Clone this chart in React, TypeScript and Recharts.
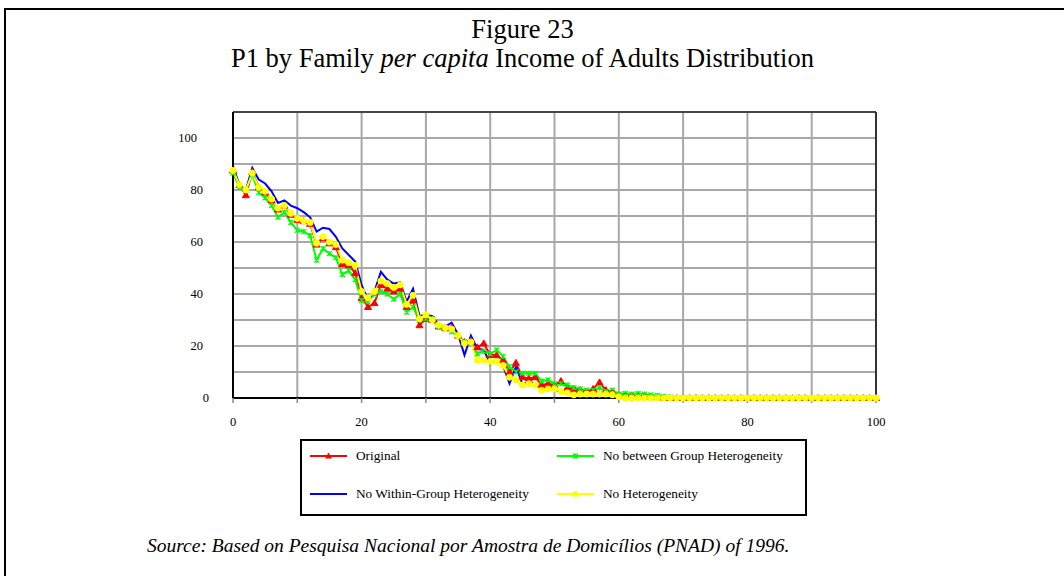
import { LineChart, Line, XAxis, YAxis, CartesianGrid, ReferenceLine } from 'recharts';

// percentiles of the family per capita income distribution
const percentiles = Array.from({ length: 101 }, (_, i) => i);

const original = [
    87.5, 82, 78, 87, 81, 79, 76, 72.5, 74, 70.5,
    68.5, 68, 67, 59, 61.5, 59.5, 58, 51.5, 51, 48,
    38.5, 35, 36.5, 43.5, 42, 41, 42, 35, 37.5, 28,
    30.5, 30, 27.5, 27, 27, 24, 21.5, 22, 19.5, 21,
    16.5, 16.5, 14.5, 10, 13.5, 8, 7.5, 8, 5, 5.5,
    5, 6.5, 4, 3.5, 3, 2.5, 3.5, 6, 3, 2.5,
    1, 1, 0.8, 0.8, 0.6, 0.5, 0.3, 0.2, 0, 0,
    0, 0, 0, 0, 0, 0, 0, 0, 0, 0,
    0, 0, 0, 0, 0, 0, 0, 0, 0, 0,
    0, 0, 0, 0, 0, 0, 0, 0, 0, 0,
    0,
];

const noBetween = [
    86.5, 81, 80, 86, 79, 77, 74, 69.5, 71.5, 67.5,
    64.5, 64, 62.5, 53, 57.5, 55.5, 54, 47.5, 49, 45.5,
    37.5, 37, 40, 41, 40, 38, 40, 33, 35, 30,
    30.5, 30.5, 27.5, 26.5, 25.5, 24, 21.5, 21, 17, 18,
    17, 18.5, 16, 12, 10, 9.5, 9.5, 9.5, 6.5, 7,
    5.5, 5.5, 5, 4, 3.5, 3, 3, 4, 2.5, 3,
    1.5, 1.8, 1.5, 1.8, 1.5, 1.2, 1, 0.6, 0.3, 0,
    0, 0, 0, 0, 0, 0, 0, 0, 0, 0,
    0, 0, 0, 0, 0, 0, 0, 0, 0, 0,
    0, 0, 0, 0, 0, 0, 0, 0, 0, 0,
    0,
];

const noWithin = [
    89, 82, 80, 88.5, 84, 82.5, 79.5, 75, 76, 74,
    73, 71.5, 69.5, 64, 65.5, 65, 62, 57.5, 55, 52.5,
    43.5, 37.5, 41, 48.5, 45.5, 44, 44.5, 37, 42, 31.5,
    32, 31.5, 28, 27.5, 29, 24.5, 16.5, 24, 19, 18.5,
    13, 15, 12.5, 5.5, 12, 5.5, 6, 5.5, 3.5, 4,
    3, 2.5, 2.5, 1.5, 2, 1.5, 1.5, 2.5, 1.5, 1.5,
    1, 0.5, 0, 0, 0, 0, 0, 0, 0, 0,
    0, 0, 0, 0, 0, 0, 0, 0, 0, 0,
    0, 0, 0, 0, 0, 0, 0, 0, 0, 0,
    0, 0, 0, 0, 0, 0, 0, 0, 0, 0,
    0,
];

const noHeterogeneity = [
    87.5, 82, 80, 86.5, 81, 79.5, 76.5, 73, 74, 71,
    69, 68, 67.5, 59.5, 62, 60, 59, 53, 52, 51,
    41, 38.5, 41, 45, 44, 42.5, 43.5, 36, 39.5, 30.5,
    32, 30, 28, 27, 26.5, 24, 21, 21.5, 14.5, 14.5,
    14, 14, 12.5, 8, 7, 5, 5.5, 5, 3, 3.5,
    3.5, 2.5, 2, 1.2, 1.5, 1.5, 1.5, 1.5, 1.5, 1.2,
    0.5, 0, 0, 0, 0, 0, 0, 0, 0, 0,
    0, 0, 0, 0, 0, 0, 0, 0, 0, 0,
    0, 0, 0, 0, 0, 0, 0, 0, 0, 0,
    0, 0, 0, 0, 0, 0, 0, 0, 0, 0,
    0,
];

const xTicks = [0, 10, 20, 30, 40, 50, 60, 70, 80, 90, 100];
const yTicks = [0, 10, 20, 30, 40, 50, 60, 70, 80, 90, 100, 110];

const chartData = percentiles.map((p, i) => ({
    p,
    original: original[i],
    noBetween: noBetween[i],
    noWithin: noWithin[i],
    noHeterogeneity: noHeterogeneity[i],
}));

const serif = '"Liberation Serif", "Times New Roman", serif';

function TriangleDot(props: any) {
    const { cx, cy, index } = props;
    if (cx == null || cy == null) return <g key={`t-${index}`} />;
    return (
        <path
            key={`t-${index}`}
            d={`M${cx},${cy - 3.5} L${cx + 3.5},${cy + 2.5} L${cx - 3.5},${cy + 2.5} Z`}
            fill="#FF0000"
            stroke="#FF0000"
        />
    );
}

function StarDot(props: any) {
    const { cx, cy, index } = props;
    if (cx == null || cy == null) return <g key={`s-${index}`} />;
    const r = 2.5;
    return (
        <path
            key={`s-${index}`}
            d={`M${cx - r},${cy - r} L${cx + r},${cy + r} M${cx - r},${cy + r} L${cx + r},${cy - r} M${cx},${cy - r} L${cx},${cy + r}`}
            stroke="#00FF00"
            strokeWidth={1.2}
            fill="none"
        />
    );
}

function CircleDot(props: any) {
    const { cx, cy, index } = props;
    if (cx == null || cy == null) return <g key={`c-${index}`} />;
    return <circle key={`c-${index}`} cx={cx} cy={cy} r={3} fill="#FFFF00" stroke="#FFFF00" />;
}

// y labels: the excel original shifts them a bit per digit
function YTick(props: any) {
    const { x, y, payload } = props;
    const v = payload.value;
    if (v % 20 !== 0 || v > 100) return <g />;
    const s = String(v);
    const end = x + 2 - 6 * (s.length - 1);
    return (
        <text x={end} y={y} dy="0.35em" textAnchor="end" fontSize={12.5} fontFamily={serif} fill="#000">
            {s}
        </text>
    );
}

function LegendSwatch({ color, marker }: { color: string; marker: 'tri' | 'star' | 'circle' | 'none' }) {
    return (
        <svg width={38} height={10} style={{ display: 'block' }}>
            <line x1={0} y1={5} x2={37} y2={5} stroke={color} strokeWidth={2} />
            {marker === 'tri' && <path d="M18.5,1.5 L22,7.5 L15,7.5 Z" fill={color} />}
            {marker === 'star' && (
                <path d="M16,2.5 L21,7.5 M16,7.5 L21,2.5 M18.5,2.5 L18.5,7.5" stroke={color} strokeWidth={1.2} />
            )}
            {marker === 'circle' && <circle cx={18.5} cy={5} r={3} fill={color} />}
        </svg>
    );
}

function LegendItem({ left, top, color, marker, label }: any) {
    return (
        <div style={{ position: 'absolute', left, top, display: 'flex', alignItems: 'center' }}>
            <LegendSwatch color={color} marker={marker} />
            <span style={{ marginLeft: 8, fontFamily: serif, fontSize: 13.3, color: '#000', whiteSpace: 'nowrap' }}>
                {label}
            </span>
        </div>
    );
}

export default function App() {
    return (
        <div style={{ position: 'absolute', left: 0, top: 0, width: 1064, height: 576, overflow: 'hidden', background: '#fff' }}>
            <div
                style={{
                    position: 'absolute',
                    left: 4,
                    top: 8,
                    width: 1200,
                    height: 700,
                    border: '2px solid #000',
                }}
            />
            <div style={{ position: 'absolute', left: 0, width: 1045, top: 15, textAlign: 'center', fontFamily: serif, fontSize: 26.5, lineHeight: '29px', color: '#000' }}>
                Figure 23
                <br />
                P1 by Family <i>per capita</i> Income of Adults Distribution
            </div>

            <div style={{ position: 'absolute', left: 0, top: 0 }}>
                <LineChart
                    width={1064}
                    height={576}
                    data={chartData}
                    margin={{ top: 112, right: 188, left: 193, bottom: 148 }}
                >
                    <CartesianGrid stroke="#a8a8a8" strokeWidth={2} horizontalValues={yTicks} verticalValues={xTicks} />
                    <XAxis
                        dataKey="p"
                        type="number"
                        domain={[0, 100]}
                        ticks={xTicks}
                        interval={0}
                        tickFormatter={(v: number) => (v % 20 === 0 ? String(v) : '')}
                        tick={{ fontSize: 12.5, fontFamily: serif, fill: '#000' }}
                        tickSize={5}
                        tickMargin={14}
                        tickLine={{ stroke: '#888', strokeWidth: 1.5 }}
                        axisLine={{ stroke: '#000', strokeWidth: 2 }}
                        height={30}
                    />
                    <YAxis
                        type="number"
                        domain={[0, 110]}
                        ticks={yTicks}
                        interval={0}
                        tick={<YTick />}
                        tickSize={0}
                        tickMargin={26}
                        tickLine={false}
                        axisLine={{ stroke: '#000', strokeWidth: 2 }}
                        width={40}
                    />
                    <ReferenceLine y={110} stroke="#444" strokeWidth={2} />
                    <ReferenceLine x={100} stroke="#333" strokeWidth={2} />
                    <Line
                        type="linear"
                        dataKey="original"
                        stroke="#FF0000"
                        strokeWidth={2}
                        dot={(props: any) => <TriangleDot {...props} key={`t-${props.index}`} />}
                        activeDot={false}
                        isAnimationActive={false}
                    />
                    <Line
                        type="linear"
                        dataKey="noBetween"
                        stroke="#00FF00"
                        strokeWidth={2}
                        dot={(props: any) => <StarDot {...props} key={`s-${props.index}`} />}
                        activeDot={false}
                        isAnimationActive={false}
                    />
                    <Line
                        type="linear"
                        dataKey="noWithin"
                        stroke="#0000FF"
                        strokeWidth={2}
                        dot={false}
                        activeDot={false}
                        isAnimationActive={false}
                    />
                    <Line
                        type="linear"
                        dataKey="noHeterogeneity"
                        stroke="#FFFF00"
                        strokeWidth={2}
                        dot={(props: any) => <CircleDot {...props} key={`c-${props.index}`} />}
                        activeDot={false}
                        isAnimationActive={false}
                    />
                </LineChart>
            </div>

            <div
                style={{
                    position: 'absolute',
                    left: 300,
                    top: 439,
                    width: 503,
                    height: 73,
                    border: '2px solid #000',
                }}
            />
            <LegendItem left={310} top={448} color="#FF0000" marker="tri" label="Original" />
            <LegendItem left={557} top={448} color="#00FF00" marker="star" label="No between Group Heterogeneity" />
            <LegendItem left={310} top={486} color="#0000FF" marker="none" label="No Within-Group Heterogeneity" />
            <LegendItem left={557} top={486} color="#FFFF00" marker="circle" label="No Heterogeneity" />

            <div style={{ position: 'absolute', left: 147, top: 534, fontFamily: serif, fontSize: 19.5, lineHeight: '24px', fontStyle: 'italic', color: '#000', whiteSpace: 'nowrap' }}>
                Source: Based on Pesquisa Nacional por Amostra de Domicílios (PNAD) of 1996.
            </div>
        </div>
    );
}
